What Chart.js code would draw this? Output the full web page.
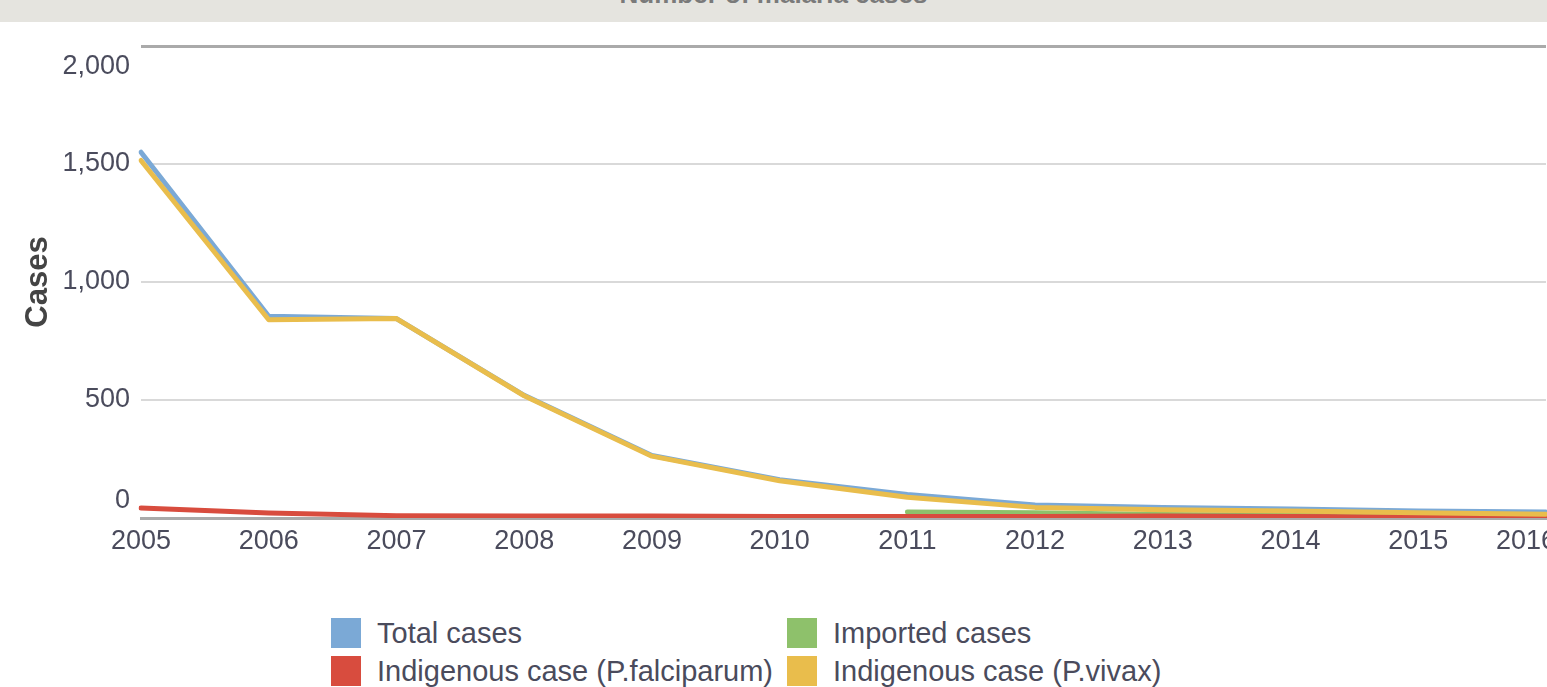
<!DOCTYPE html>
<html>
<head>
<meta charset="utf-8">
<script src="https://cdn.jsdelivr.net/npm/chart.js@4.4.1/dist/chart.umd.min.js"></script>
<style>
  html, body { margin: 0; padding: 0; width: 1547px; height: 687px; overflow: hidden; background: #fff; font-family: "Liberation Sans", Arial, sans-serif; }
  #band { position: absolute; top: 0; left: 0; width: 1547px; height: 22px; background: #e5e4df; overflow: hidden; }
  #band span { position: absolute; left: 0; right: 0; top: -19px; text-align: center; font: bold 26px "Liberation Sans", Arial, sans-serif; line-height: 26px; color: #7a7a7a; }
  #wrap { position: absolute; top: 22px; left: 0; width: 1583px; height: 560px; }
  #legend { position: absolute; top: 618px; left: 331px; display: grid; grid-template-columns: 456px 456px; row-gap: 8px; }
  .item { display: flex; align-items: center; height: 30px; font-size: 29px; color: #4a4b5c; white-space: nowrap; }
  .box { width: 30px; height: 30px; margin-right: 16px; flex: none; }
</style>
</head>
<body>
<div id="band"><span>Number of malaria cases</span></div>
<div id="wrap"><canvas id="malariaChart"></canvas></div>
<div id="legend"></div>
<script>
const years = ['2005', '2006', '2007', '2008', '2009', '2010', '2011', '2012', '2013', '2014', '2015', '2016'];
const totalCases = [1550, 855, 845, 520, 265, 162, 100, 55, 45, 38, 30, 25];
const importedCases = [null, null, null, null, null, null, 25, 22, 15, 12, 10, 8];
const falciparumCases = [42, 21, 10, 8, 8, 6, 6, 6, 8, 6, 4, 2];
const vivaxCases = [1515, 840, 845, 518, 262, 158, 88, 45, 35, 30, 22, 16];
const yTicks = [0, 500, 1000, 1500, 2000];

const seriesNames = ['Total cases', 'Imported cases', 'Indigenous case (P.falciparum)', 'Indigenous case (P.vivax)'];
const seriesColors = ['#7ba9d6', '#8ec16b', '#d84c3e', '#e9bd4c'];
const seriesData = [totalCases, importedCases, falciparumCases, vivaxCases];
const drawOrder = [3, 2, 1, 0]; // vivax on top

const tickFont = '27px "Liberation Sans", Arial, sans-serif';
const tickColor = '#4a4b5c';

// html legend, 2 columns like the original
const legendEl = document.getElementById('legend');
seriesNames.forEach((name, i) => {
    const div = document.createElement('div');
    div.className = 'item';
    div.innerHTML = '<span class="box" style="background:' + seriesColors[i] + '"></span>' + name;
    legendEl.appendChild(div);
});

// tick labels drawn by hand so the end ones get pushed inward, as in the original
const tickLabelPlugin = {
    id: 'tickLabels',
    afterDraw(chart) {
        const ys = chart.scales.y;
        const xs = chart.scales.x;
        const area = chart.chartArea;
        const ctx = chart.ctx;
        ctx.save();
        ctx.font = tickFont;
        ctx.fillStyle = tickColor;
        ctx.textAlign = 'right';
        ctx.textBaseline = 'middle';
        yTicks.forEach(v => {
            let py = ys.getPixelForValue(v);
            py = Math.min(Math.max(py, area.top + 21), area.bottom - 17);
            ctx.fillText(v.toLocaleString('en-US'), area.left - 11, py);
        });
        ctx.textAlign = 'center';
        years.forEach((y, i) => {
            const px = Math.min(xs.getPixelForTick(i), 1526);
            ctx.fillText(y, px, area.bottom + 24);
        });
        ctx.restore();
    }
};

document.addEventListener('DOMContentLoaded', () => {
    const ctx = document.getElementById('malariaChart').getContext('2d');
    new Chart(ctx, {
        type: 'line',
        data: {
            labels: years,
            datasets: seriesNames.map((name, i) => ({
                label: name,
                data: seriesData[i],
                borderColor: seriesColors[i],
                backgroundColor: seriesColors[i],
                borderWidth: 5,
                borderCapStyle: 'round',
                borderJoinStyle: 'round',
                pointRadius: 0,
                tension: 0,
                order: drawOrder[i]
            }))
        },
        options: {
            responsive: true,
            maintainAspectRatio: false,
            animation: false,
            layout: { padding: { top: 24, bottom: 0, left: 0, right: 37 } },
            plugins: {
                legend: { display: false },
                tooltip: { enabled: false }
            },
            scales: {
                x: {
                    grid: { display: false, drawTicks: false },
                    border: { display: true, color: '#aaaaaa', width: 3 },
                    ticks: { display: false },
                    afterFit: s => { s.height = 64; }
                },
                y: {
                    min: 0,
                    max: 2000,
                    ticks: { display: false, stepSize: 500 },
                    grid: {
                        drawTicks: false,
                        color: c => (c.tick.value === 2000 || c.tick.value === 0) ? '#aaaaaa' : '#d9d9d9',
                        lineWidth: c => (c.tick.value === 2000 || c.tick.value === 0) ? 3 : 2
                    },
                    border: { display: false },
                    title: {
                        display: true,
                        text: 'Cases',
                        color: '#444444',
                        font: { family: '"Liberation Sans", Arial, sans-serif', size: 31, weight: 'bold' },
                        padding: { top: 20, bottom: 0 }
                    },
                    afterFit: s => { s.width = 141; }
                }
            }
        },
        plugins: [tickLabelPlugin]
    });
});
</script>
</body>
</html>
